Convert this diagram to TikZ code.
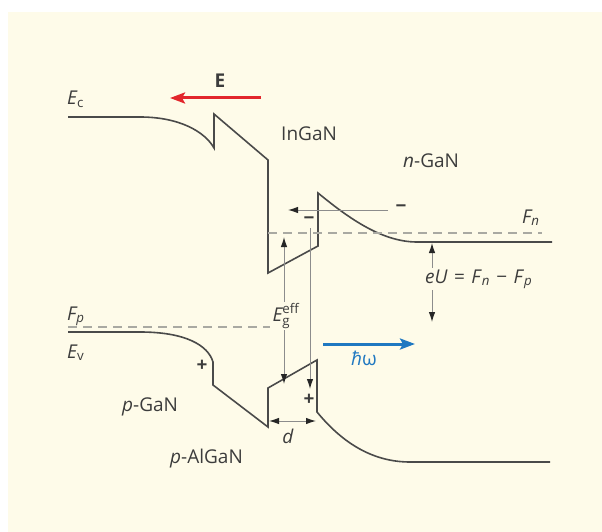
\documentclass[tikz,border=0pt]{standalone}
\usepackage{amsmath}
\usepackage{fontspec}
\setmainfont{Open Sans}
\usetikzlibrary{arrows.meta}
\definecolor{bgCream}{HTML}{FEFBE9}
\definecolor{bandGray}{HTML}{4A4A4A}
\definecolor{dashGray}{HTML}{A9A9A2}
\definecolor{thinGray}{HTML}{8C8C8C}
\definecolor{labelGray}{HTML}{3C3C3C}
\definecolor{fieldRed}{HTML}{E2262C}
\definecolor{photonBlue}{HTML}{1F78C1}

\begin{document}
\begin{tikzpicture}[x=1pt,y=-1pt,font=\fontsize{19}{22}\selectfont,text=labelGray,
  band/.style={draw=bandGray,line width=1.6pt},
  fermi/.style={draw=dashGray,line width=1.2pt,dash pattern=on 9pt off 6pt},
  thin/.style={draw=thinGray,line width=1pt},
  dim/.style={thin,{Latex[length=10pt,width=6.5pt,color=black!85]}-{Latex[length=10pt,width=6.5pt,color=black!85]}},
  tip/.style={thin,-{Latex[length=10pt,width=6.5pt,color=black!85]}},
  fat/.style={line width=3pt,-{Stealth[length=15pt,width=11pt,inset=3pt]}},
  lbl/.style={inner sep=0pt,anchor=base west},
  charge/.style={inner sep=0pt,font=\fontsize{19}{22}\selectfont\bfseries}]
\useasboundingbox (0,0) rectangle (602,532);
\fill[bgCream] (8,12) rectangle (602,532);
% --- bands ---
\draw[band] (68,117) -- (140,117) .. controls (180,117) and (205,132) .. (214,148)
  -- (214,114) -- (268,160) -- (268,273) -- (318,246) -- (318,193)
  .. controls (345,215) and (380,242) .. (417,242) -- (552,242);
\draw[band] (68,332) -- (140,332) .. controls (185,332) and (208,345) .. (213,362)
  -- (213,385) -- (268,427) -- (268,388) -- (317,360) -- (317,412)
  .. controls (340,440) and (370,462) .. (410,462) -- (550,462);
\draw[fermi] (268,233) -- (542,233);
\draw[fermi] (68,327) -- (270,327);
% --- labels ---
\node[lbl] (ec) at (67,105) {$\textit{E}_{\text{c}}$};
\node[lbl] (ev) at (67,358) {$\textit{E}_{\text{v}}$};
\node[lbl] (fp) at (67,320) {$\textit{F}_{\textit{p}}$};
\node[lbl] (fn) at (522,223) {$\textit{F}_{\textit{n}}$};
\node[lbl] (ingan) at (281,141) {InGaN};
\node[lbl] (ngan) at (403,167) {\textit{n}-GaN};
\node[lbl] (pgan) at (122,411) {\textit{p}-GaN};
\node[lbl] (palgan) at (170,463) {\textit{p}-AlGaN};
\node[charge] (plusA) at (202,366) {+};
\node[charge] (plusB) at (309,400) {+};
\node[charge] (minA) at (309,221) {−};
\node[charge] (minB) at (401,209) {−};
% --- arrows ---
\coordinate (egTop) at (284,237);
\coordinate (egBot) at (284,384);
\draw[dim] (egTop) -- (egBot);
\node[fill=bgCream,inner sep=1pt] (eg) at (286,316) {$\textit{E}^{\text{eff}}_{\text{g}}$};
\coordinate (recTop) at (310,228);
\coordinate (recBot) at (310,389);
\draw[tip] (recTop) -- (recBot);
\coordinate (elTail) at (388,210);
\coordinate (elHead) at (288,210);
\draw[tip] (elTail) -- (elHead);
\coordinate (euTop) at (432,243);
\coordinate (euBot) at (432,322);
\draw[dim] (euTop) -- (euBot);
\node[lbl,fill=bgCream,inner sep=1pt] (eu) at (424,283)
  {\textit{eU}\,\,=\,\,\textit{F}$_{\textit{n}}$\,\,−\,\,\textit{F}$_{\textit{p}}$};
\coordinate (dL) at (269,421);
\coordinate (dR) at (316,421);
\draw[dim] (dL) -- (dR);
\node[inner sep=0pt,anchor=base] (d) at (288,443) {\textit{d}};
% field and photon
\coordinate (fTail) at (261,98);
\coordinate (fHead) at (170,98);
\draw[fat,fieldRed] (fTail) -- (fHead);
\node[inner sep=0pt,anchor=base] (field) at (220,88) {\textbf{E}};
\coordinate (hTail) at (323,344);
\coordinate (hHead) at (415,344);
\draw[fat,photonBlue] (hTail) -- (hHead);
\node[lbl,text=photonBlue] (hw) at (351,365) {\textit{ħ}ω};
\end{tikzpicture}
\end{document}
